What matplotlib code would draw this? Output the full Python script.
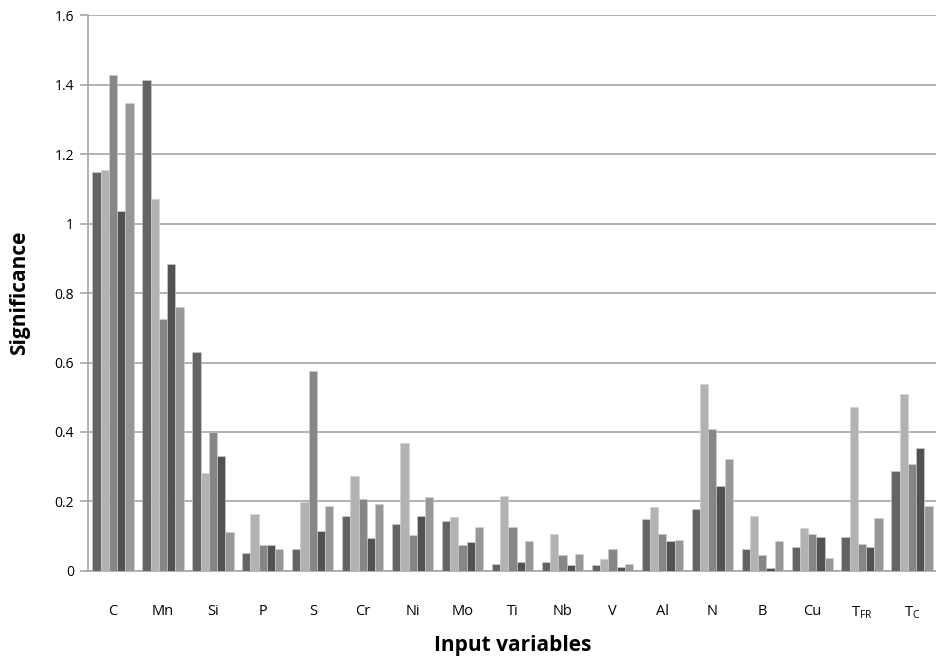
import numpy as np
import matplotlib
matplotlib.use('Agg')
import matplotlib.pyplot as plt

plt.rcParams['font.family'] = ['Open Sans', 'DejaVu Sans']

# Input variables and significance for each of the five series
variables = ['C', 'Mn', 'Si', 'P', 'S', 'Cr', 'Ni', 'Mo', 'Ti', 'Nb', 'V', 'Al', 'N', 'B', 'Cu',
             r'$\mathregular{T_{FR}}$', r'$\mathregular{T_C}$']
series1 = [1.149, 1.413, 0.630, 0.051, 0.062, 0.159, 0.134, 0.143, 0.021, 0.025, 0.016, 0.148, 0.179, 0.062, 0.070, 0.099, 0.289]
series2 = [1.154, 1.072, 0.281, 0.164, 0.198, 0.272, 0.369, 0.155, 0.217, 0.106, 0.034, 0.183, 0.537, 0.159, 0.123, 0.472, 0.508]
series3 = [1.429, 0.724, 0.401, 0.074, 0.576, 0.208, 0.102, 0.074, 0.127, 0.045, 0.062, 0.106, 0.408, 0.045, 0.106, 0.078, 0.309]
series4 = [1.036, 0.883, 0.331, 0.074, 0.114, 0.094, 0.159, 0.083, 0.025, 0.016, 0.012, 0.086, 0.245, 0.009, 0.099, 0.070, 0.354]
series5 = [1.346, 0.761, 0.111, 0.062, 0.188, 0.192, 0.212, 0.127, 0.086, 0.050, 0.021, 0.090, 0.321, 0.086, 0.037, 0.151, 0.188]

all_series = [series1, series2, series3, series4, series5]
colors = ['#646464', '#b2b2b2', '#868686', '#525252', '#979797']

fig = plt.figure(figsize=(9.37, 6.6), dpi=100)
ax = fig.add_axes([0.094, 0.135, 0.906, 0.842])

x = np.arange(len(variables))
w = 0.165
for i, (vals, c) in enumerate(zip(all_series, colors)):
    ax.bar(x + (i - 2) * w, vals, w, color=c, edgecolor='#d0d0d0', linewidth=0.4, zorder=3)

ax.set_xlim(-0.5, len(variables) - 0.5)
ax.set_ylim(0, 1.6)
yt = np.arange(0, 1.61, 0.2)
ax.set_yticks(yt)
ax.set_yticklabels(['0', '0.2', '0.4', '0.6', '0.8', '1', '1.2', '1.4', '1.6'], fontsize=10)
ax.yaxis.grid(True, color='#a6a6a6', linewidth=1.2, zorder=0)
ax.set_axisbelow(True)

ax.set_xticks(x)
ax.set_xticklabels(variables, fontsize=10.5)
ax.tick_params(axis='x', length=0, pad=24)
ax.tick_params(axis='y', length=6, color='#a6a6a6', width=1.2, pad=4)

for s in ['top', 'right']:
    ax.spines[s].set_visible(False)
ax.spines['left'].set_color('#a6a6a6')
ax.spines['left'].set_linewidth(1.2)
ax.spines['bottom'].set_color('#a6a6a6')
ax.spines['bottom'].set_linewidth(1.2)

ax.set_ylabel('Significance', fontsize=15, fontweight='bold', labelpad=18)
ax.set_xlabel('Input variables', fontsize=15, fontweight='bold', labelpad=10)

fig.savefig('out.png', dpi=100)
